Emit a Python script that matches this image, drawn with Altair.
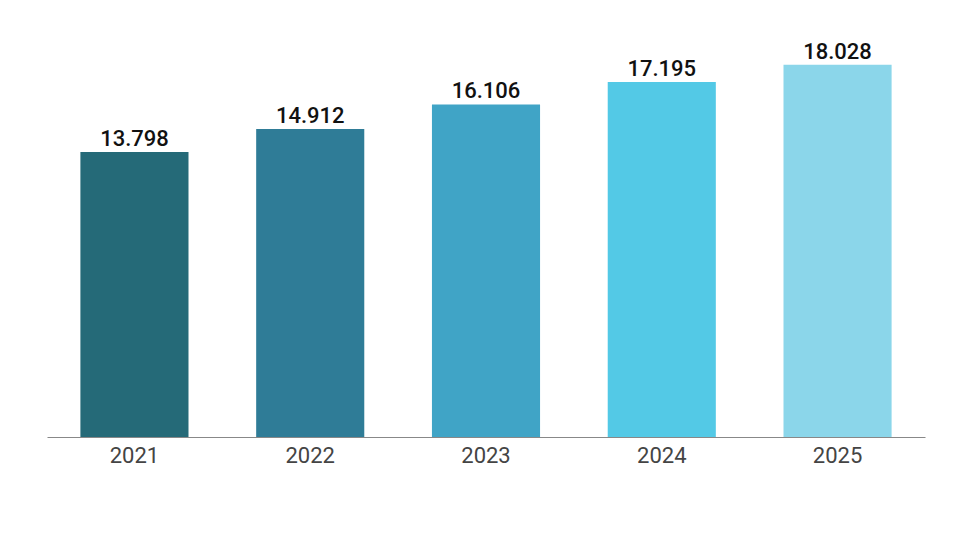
import altair as alt
import pandas as pd

years = ["2021", "2022", "2023", "2024", "2025"]
values = [13.798, 14.912, 16.106, 17.195, 18.028]
labels = ["13.798", "14.912", "16.106", "17.195", "18.028"]
colors = ["#256a78", "#2f7c97", "#40a4c6", "#53c9e6", "#8bd6ea"]

df = pd.DataFrame({"year": years, "value": values, "label": labels})

x = alt.X("year:N", title=None, sort=years,
          scale=alt.Scale(paddingInner=0.385, paddingOuter=0.19),
          axis=alt.Axis(labelAngle=0, labelFont="Roboto", labelFontSize=22,
                        labelColor="#444444", ticks=False, domainColor="#888888",
                        domainWidth=1.2, labelPadding=8))
y = alt.Y("value:Q", title=None, scale=alt.Scale(domain=[0, 20], nice=False),
          axis=None)

bars = alt.Chart(df).mark_bar().encode(
    x=x, y=y,
    color=alt.Color("year:N", scale=alt.Scale(domain=years, range=colors), legend=None),
)
text = alt.Chart(df).mark_text(dy=-13, font="Roboto", fontSize=22, fontWeight=500,
                               color="#111111").encode(
    x=alt.X("year:N", sort=years), y="value:Q", text="label:N")

chart = (bars + text).properties(
    width=878, height=413,
    padding={"left": 39, "top": 16, "right": 20, "bottom": 80},
    autosize="none",
    background="white",
).configure_view(strokeWidth=0, stroke=None)

chart.save("out.html", embed_options={"renderer": "svg", "actions": False})
